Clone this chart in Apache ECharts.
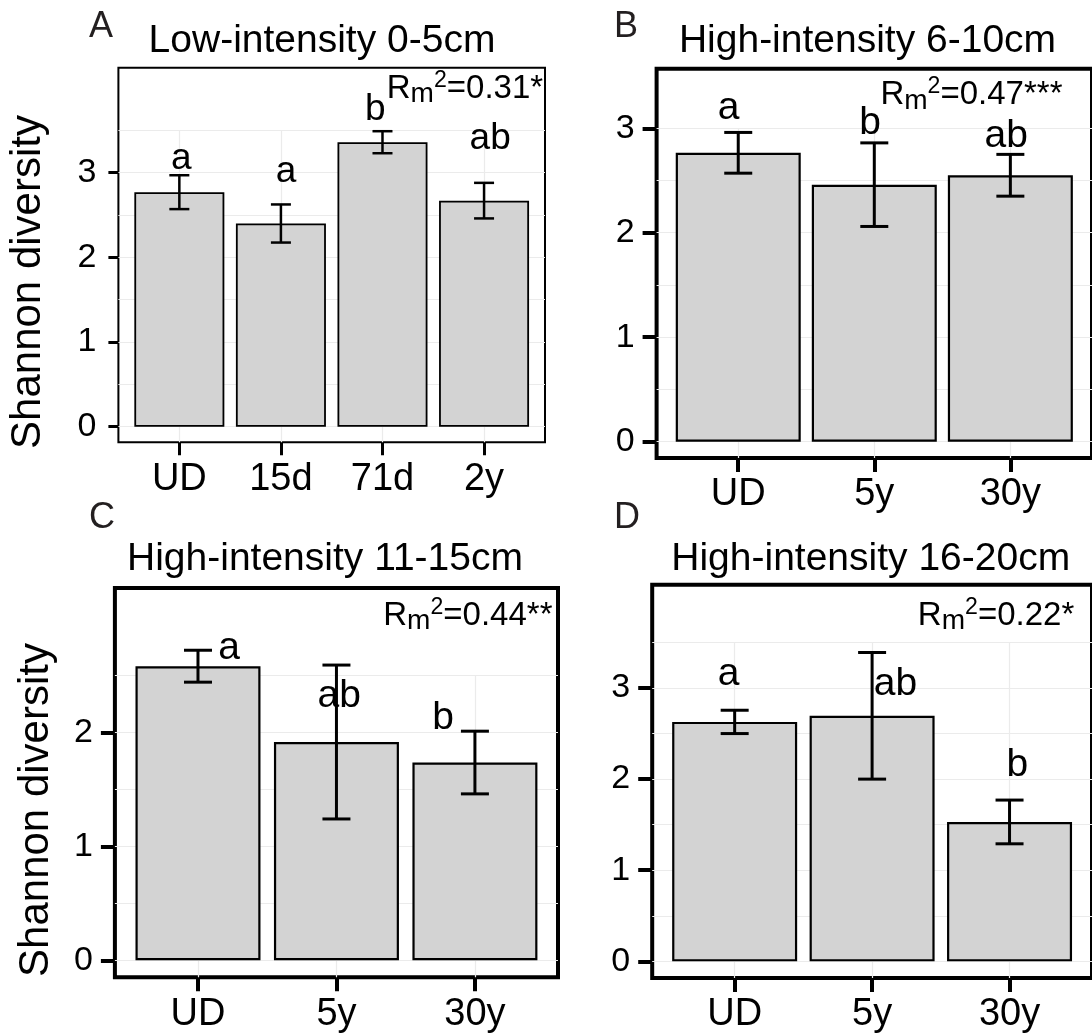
<!DOCTYPE html>
<html><head><meta charset="utf-8">
<script src="https://cdn.jsdelivr.net/npm/echarts@6/dist/echarts.min.js"></script>
<style>html,body{margin:0;padding:0;background:#fff}#c{width:1092px;height:1036px}</style>
</head><body><div id="c"></div>
<script>
// ---------- data ----------
const categoriesA = ['UD', '15d', '71d', '2y'];
const meanA = [2.77, 2.40, 3.36, 2.67];
const seA = [0.20, 0.225, 0.13, 0.21];
const lettersA = ['a', 'a', 'b', 'ab'];
const letterXA = [1.02, 2.05, 2.93, 4.06];
const letterYA = [3.01, 2.86, 3.60, 3.25];
const r2A = '0.31*';
const r2PosA = [3.042, 3.86];   // left end (x) and baseline (y) of the label
const yTicksA = [0, 1, 2, 3];
const yRangeA = [-0.184, 4.24];

const categoriesB = ['UD', '5y', '30y'];
const meanB = [2.765, 2.46, 2.55];
const seB = [0.195, 0.40, 0.20];
const lettersB = ['a', 'b', 'ab'];
const letterXB = [0.93, 1.97, 2.97];
const letterYB = [3.06, 2.92, 2.80];
const r2B = '0.47***';
const r2PosB = [2.045, 3.21];
const yTicksB = [0, 1, 2, 3];
const yRangeB = [-0.156, 3.57];

const categoriesC = ['UD', '5y', '30y'];
const meanC = [2.58, 1.915, 1.735];
const seC = [0.14, 0.675, 0.275];
const lettersC = ['a', 'ab', 'b'];
const letterXC = [1.225, 2.02, 2.77];
const letterYC = [2.617, 2.198, 2.009];
const r2C = '0.44**';
const r2PosC = [2.338, 2.926];
const yTicksC = [0, 1, 2];
const yRangeC = [-0.149, 3.266];

const categoriesD = ['UD', '5y', '30y'];
const meanD = [2.628, 2.695, 1.53];
const seD = [0.128, 0.695, 0.24];
const lettersD = ['a', 'ab', 'b'];
const letterXD = [0.955, 2.17, 3.056];
const letterYD = [3.008, 2.898, 2.012];
const r2D = '0.22*';
const r2PosD = [2.333, 3.673];
const yTicksD = [0, 1, 2, 3];
const yRangeD = [-0.183, 4.134];

const titles = ['Low-intensity 0-5cm', 'High-intensity 6-10cm', 'High-intensity 11-15cm', 'High-intensity 16-20cm'];
const panelTags = ['A', 'B', 'C', 'D'];
const yName = 'Shannon diversity';
const gridTop = [3.5, 3.0, 2.5, 3.5];

// ---------- layout / style ----------
const FONT = "'Liberation Sans', Arial, Helvetica, sans-serif";
const layout = [
  {left: 118.4, top: 67.7, width: 426.6, height: 374.6, bw: 2, tickW: 3, yTickLen: 10, xTickLen: 13, barW: 90, cap: 10, elw: 2.5, r2Font: 33, letterFont: 37,
   title: [322, 41], tag: [101, 27], yname: [28, 282]},
  {left: 656.6, top: 68.7, width: 444.4, height: 389.3, bw: 4, tickW: 4, yTickLen: 14, xTickLen: 14, barW: 125, cap: 14, elw: 3, r2Font: 33, letterFont: 39,
   title: [867.5, 41], tag: [626, 27]},
  {left: 114.9, top: 588, width: 443.1, height: 389.3, bw: 4, tickW: 4, yTickLen: 14, xTickLen: 14, barW: 125, cap: 14, elw: 3, r2Font: 33, letterFont: 39,
   title: [325, 559], tag: [102, 518], yname: [36.6, 810]},
  {left: 652.2, top: 584.7, width: 443.4, height: 393.3, bw: 4, tickW: 4, yTickLen: 14, xTickLen: 14, barW: 125, cap: 14, elw: 3, r2Font: 33, letterFont: 39,
   title: [870.7, 559], tag: [627, 518]}
];

const panels = [
  {cats: categoriesA, mean: meanA, se: seA, letters: lettersA, lx: letterXA, ly: letterYA, r2: r2A, r2Pos: r2PosA, yTicks: yTicksA, yRange: yRangeA},
  {cats: categoriesB, mean: meanB, se: seB, letters: lettersB, lx: letterXB, ly: letterYB, r2: r2B, r2Pos: r2PosB, yTicks: yTicksB, yRange: yRangeB},
  {cats: categoriesC, mean: meanC, se: seC, letters: lettersC, lx: letterXC, ly: letterYC, r2: r2C, r2Pos: r2PosC, yTicks: yTicksC, yRange: yRangeC},
  {cats: categoriesD, mean: meanD, se: seD, letters: lettersD, lx: letterXD, ly: letterYD, r2: r2D, r2Pos: r2PosD, yTicks: yTicksD, yRange: yRangeD}
];

const grids = [], xAxes = [], yAxes = [], series = [], graphics = [];

panels.forEach((p, i) => {
  const L = layout[i];
  const n = p.cats.length;
  const xTicks = p.cats.map((c, j) => j + 1);
  grids.push({left: L.left, top: L.top, width: L.width, height: L.height, show: true, z: 0,
    borderColor: '#000', borderWidth: L.bw, backgroundColor: 'transparent', containLabel: false});
  xAxes.push({type: 'value', gridIndex: i, min: 0.4, max: n + 0.6,
    axisLine: {show: false, onZero: false}, splitLine: {show: false},
    axisTick: {show: true, customValues: xTicks, length: L.xTickLen, lineStyle: {color: '#000', width: L.tickW}},
    axisLabel: {customValues: xTicks, formatter: v => p.cats[Math.round(v) - 1], fontSize: 38, color: '#000', fontFamily: FONT, margin: 18}
  });
  yAxes.push({type: 'value', gridIndex: i, min: p.yRange[0], max: p.yRange[1],
    axisLine: {show: false, onZero: false}, splitLine: {show: false},
    axisTick: {show: true, customValues: p.yTicks, length: L.yTickLen, lineStyle: {color: '#000', width: L.tickW}},
    axisLabel: {customValues: p.yTicks, fontSize: 34, color: '#000', fontFamily: FONT, margin: 22}
  });

  // light background grid lines
  const gl = [];
  for (let v = 0; v <= gridTop[i] + 1e-9; v += 0.5) gl.push({yAxis: v});
  xTicks.forEach(x => gl.push([{coord: [x, p.yRange[0]]}, {coord: [x, gridTop[i]]}]));
  series.push({type: 'line', xAxisIndex: i, yAxisIndex: i, data: [], silent: true, z: 1,
    markLine: {silent: true, z: 1, symbol: ['none', 'none'], animation: false, label: {show: false},
      lineStyle: {color: '#ebebeb', width: 1.2, type: 'solid'}, data: gl}});

  // bars
  series.push({type: 'bar', xAxisIndex: i, yAxisIndex: i, z: 2, barWidth: L.barW,
    data: p.mean.map((m, j) => [j + 1, m]),
    itemStyle: {color: '#d3d3d3', borderColor: '#000', borderWidth: L.bw === 2 ? 1.8 : 2.2}});

  // error bars
  series.push({type: 'custom', xAxisIndex: i, yAxisIndex: i, z: 3,
    data: p.mean.map((m, j) => [j + 1, m - p.se[j], m + p.se[j]]),
    encode: {x: 0, y: [1, 2]},
    renderItem: (params, api) => {
      const x = api.value(0);
      const a = api.coord([x, api.value(2)]), b = api.coord([x, api.value(1)]);
      const st = {stroke: '#000', lineWidth: L.elw, fill: null};
      return {type: 'group', children: [
        {type: 'line', shape: {x1: a[0], y1: a[1], x2: b[0], y2: b[1]}, style: st},
        {type: 'line', shape: {x1: a[0] - L.cap, y1: a[1], x2: a[0] + L.cap, y2: a[1]}, style: st},
        {type: 'line', shape: {x1: b[0] - L.cap, y1: b[1], x2: b[0] + L.cap, y2: b[1]}, style: st}
      ]};
    }});

  // significance letters
  series.push({type: 'custom', xAxisIndex: i, yAxisIndex: i, z: 4,
    data: p.letters.map((t, j) => [p.lx[j], p.ly[j], j]),
    renderItem: (params, api) => {
      const pt = api.coord([api.value(0), api.value(1)]);
      const F = L.letterFont;
      return {type: 'text', x: pt[0], y: pt[1] - 0.34 * F,
        style: {text: p.letters[api.value(2)], fontSize: F, fontFamily: FONT, fill: '#000',
          align: 'center', verticalAlign: 'middle', textAlign: 'center', textVerticalAlign: 'middle'}};
    }});

  // R_m^2 annotation (anchored at its left end)
  series.push({type: 'custom', xAxisIndex: i, yAxisIndex: i, z: 4,
    data: [[p.r2Pos[0], p.r2Pos[1]]],
    renderItem: (params, api) => {
      const pt = api.coord([api.value(0), api.value(1)]);
      const F = L.r2Font;
      return {type: 'text', x: pt[0], y: pt[1] - 0.34 * F,
        style: {text: '{r|R}{s|m}{p|2}{r|=' + p.r2 + '}', fontFamily: FONT, fill: '#000',
          align: 'left', verticalAlign: 'middle', textAlign: 'left', textVerticalAlign: 'middle',
          rich: {
            r: {fontSize: F, lineHeight: 1.2 * F, fontFamily: FONT, fill: '#000', color: '#000', verticalAlign: 'middle'},
            s: {fontSize: 0.85 * F, lineHeight: 0.6 * F, fontFamily: FONT, fill: '#000', color: '#000', verticalAlign: 'bottom'},
            p: {fontSize: 0.7 * F, lineHeight: 0.7 * F, fontFamily: FONT, fill: '#000', color: '#000', verticalAlign: 'top'}
          }}};
    }});

  graphics.push({type: 'text', x: L.title[0], y: L.title[1], z: 10,
    style: {text: titles[i], fontSize: 39, fontFamily: FONT, fill: '#000',
      align: 'center', verticalAlign: 'middle', textAlign: 'center', textVerticalAlign: 'middle'}});
  graphics.push({type: 'text', x: L.tag[0], y: L.tag[1], z: 10,
    style: {text: panelTags[i], fontSize: 36, fontFamily: FONT, fill: '#231f20',
      align: 'center', verticalAlign: 'middle', textAlign: 'center', textVerticalAlign: 'middle'}});
  if (L.yname) {
    graphics.push({type: 'text', x: L.yname[0], y: L.yname[1], rotation: Math.PI / 2, z: 10,
      style: {text: yName, fontSize: 42, fontFamily: FONT, fill: '#000',
        align: 'center', verticalAlign: 'middle', textAlign: 'center', textVerticalAlign: 'middle'}});
  }
});

const chart = echarts.init(document.getElementById('c'));
chart.setOption({
  animation: false,
  backgroundColor: '#fff',
  textStyle: {fontFamily: FONT},
  grid: grids, xAxis: xAxes, yAxis: yAxes, series: series, graphic: graphics
});
</script></body></html>
